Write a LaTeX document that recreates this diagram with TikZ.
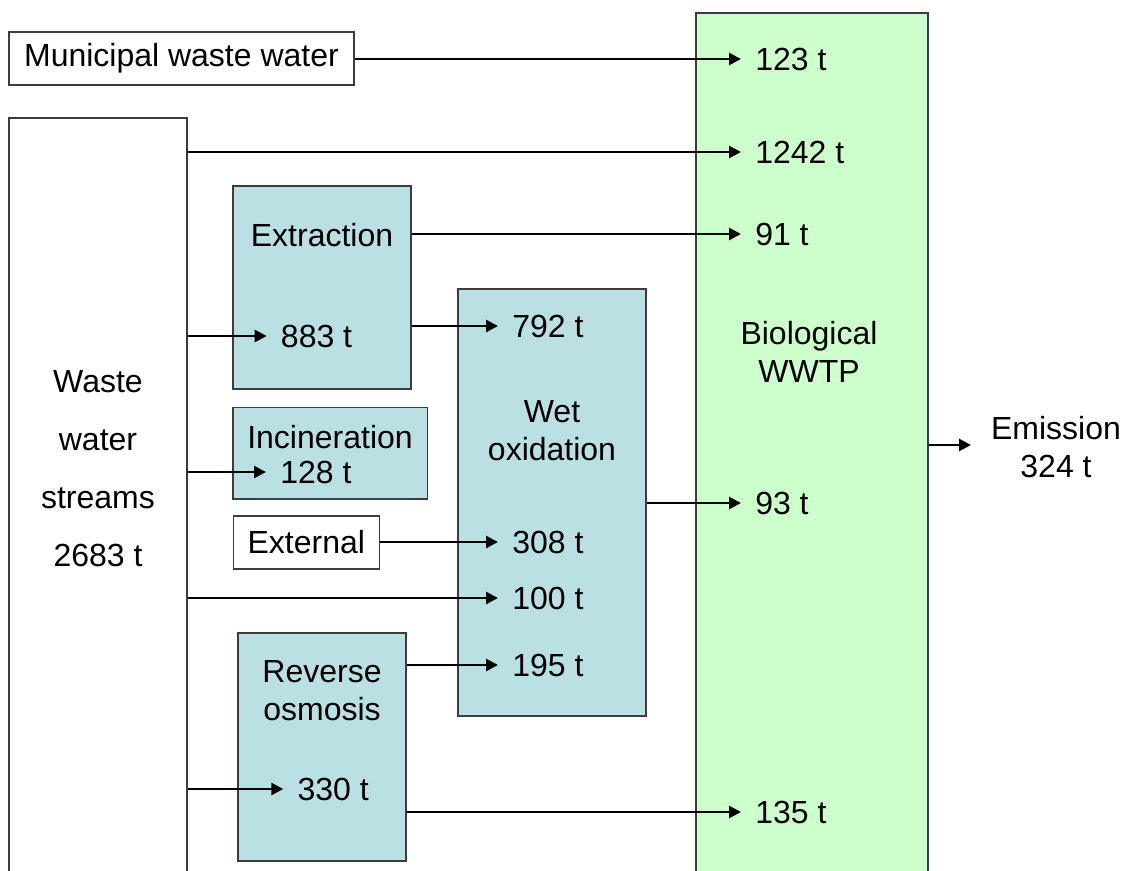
\documentclass[tikz,border=0pt]{standalone}
\usepackage{fontspec}
\setmainfont{Liberation Sans}
\usetikzlibrary{fit,arrows.meta}
\definecolor{procfill}{RGB}{187,224,227}
\definecolor{biofill}{RGB}{204,255,204}
\definecolor{edgegray}{RGB}{60,60,60}
\begin{document}
\begin{tikzpicture}[x=0.75pt,y=-0.75pt,
  font=\fontsize{24}{28.5}\selectfont,
  box/.style={draw=edgegray, line width=1.2pt, inner sep=0pt},
  proc/.style={box, fill=procfill},
  plain/.style={box, fill=white},
  bio/.style={box, fill=biofill},
  lbl/.style={anchor=west, inner xsep=10.5pt, inner ysep=0pt},
  txt/.style={align=center, inner sep=0pt},
  arr/.style={-{Triangle[length=9pt,width=9pt]}, line width=2pt}]
\useasboundingbox (0,0) rectangle (1123,870);
\clip (0,0) rectangle (1123,870);

% boxes
\node[bio, fit={(695.7,13) (927.7,890)}] (wwtp) {};
\node[plain, fit={(9,118) (187,890)}] (wws) {};
\node[plain, fit={(9,32) (354,85)}] (muni) {};
\node[proc, fit={(232.7,185.7) (411,389)}] (extr) {};
\node[proc, fit={(232.7,407.3) (427.3,499)}] (inc) {};
\node[proc, fit={(457.7,289) (646,716)}] (wetox) {};
\node[plain, fit={(233.3,515.7) (379.3,569)}] (ext) {};
\node[proc, fit={(238,632.7) (405.7,861)}] (ro) {};

% box texts
\node[txt] (tmuni) at (muni.center) {Municipal waste water};
\node[txt, font=\fontsize{24}{43.5}\selectfont] (twws) at (98,469) {Waste\\water\\streams\\2683 t};
\node[txt] (textr) at (322,235) {Extraction};
\node[txt] (tinc) at (330,437) {Incineration};
\node[txt] (twet) at (552,431) {Wet\\oxidation};
\node[txt] (text) at (ext.center) {External};
\node[txt] (tro) at (322,691) {Reverse\\osmosis};
\node[txt] (tbio) at (809,352) {Biological\\WWTP};
\node[txt] (temis) at (1056,447) {Emission\\324 t};

% flow labels
\node[lbl] (t123) at (741,59) {123 t};
\node[lbl] (t1242) at (741,152) {1242 t};
\node[lbl] (t91) at (741,234) {91 t};
\node[lbl] (t93) at (741,503) {93 t};
\node[lbl] (t135) at (741,812) {135 t};
\node[lbl] (t883) at (266.7,336) {883 t};
\node[lbl] (t128) at (266,472) {128 t};
\node[lbl] (t330) at (283.3,789) {330 t};
\node[lbl] (t792) at (498,326) {792 t};
\node[lbl] (t308) at (498,542) {308 t};
\node[lbl] (t100) at (498,598) {100 t};
\node[lbl] (t195) at (498,665) {195 t};
\coordinate (emtip) at (971,445);

% connectors
\draw[arr] (muni.east |- t123.west) -- (t123.west);
\draw[arr] (wws.east |- t1242.west) -- (t1242.west);
\draw[arr] (extr.east |- t91.west) -- (t91.west);
\draw[arr] (wws.east |- t883.west) -- (t883.west);
\draw[arr] (wws.east |- t128.west) -- (t128.west);
\draw[arr] (wws.east |- t330.west) -- (t330.west);
\draw[arr] (wws.east |- t100.west) -- (t100.west);
\draw[arr] (extr.east |- t792.west) -- (t792.west);
\draw[arr] (ext.east |- t308.west) -- (t308.west);
\draw[arr] (ro.east |- t195.west) -- (t195.west);
\draw[arr] (wetox.east |- t93.west) -- (t93.west);
\draw[arr] (ro.east |- t135.west) -- (t135.west);
\draw[arr] (wwtp.east |- emtip) -- (emtip);
\end{tikzpicture}
\end{document}
